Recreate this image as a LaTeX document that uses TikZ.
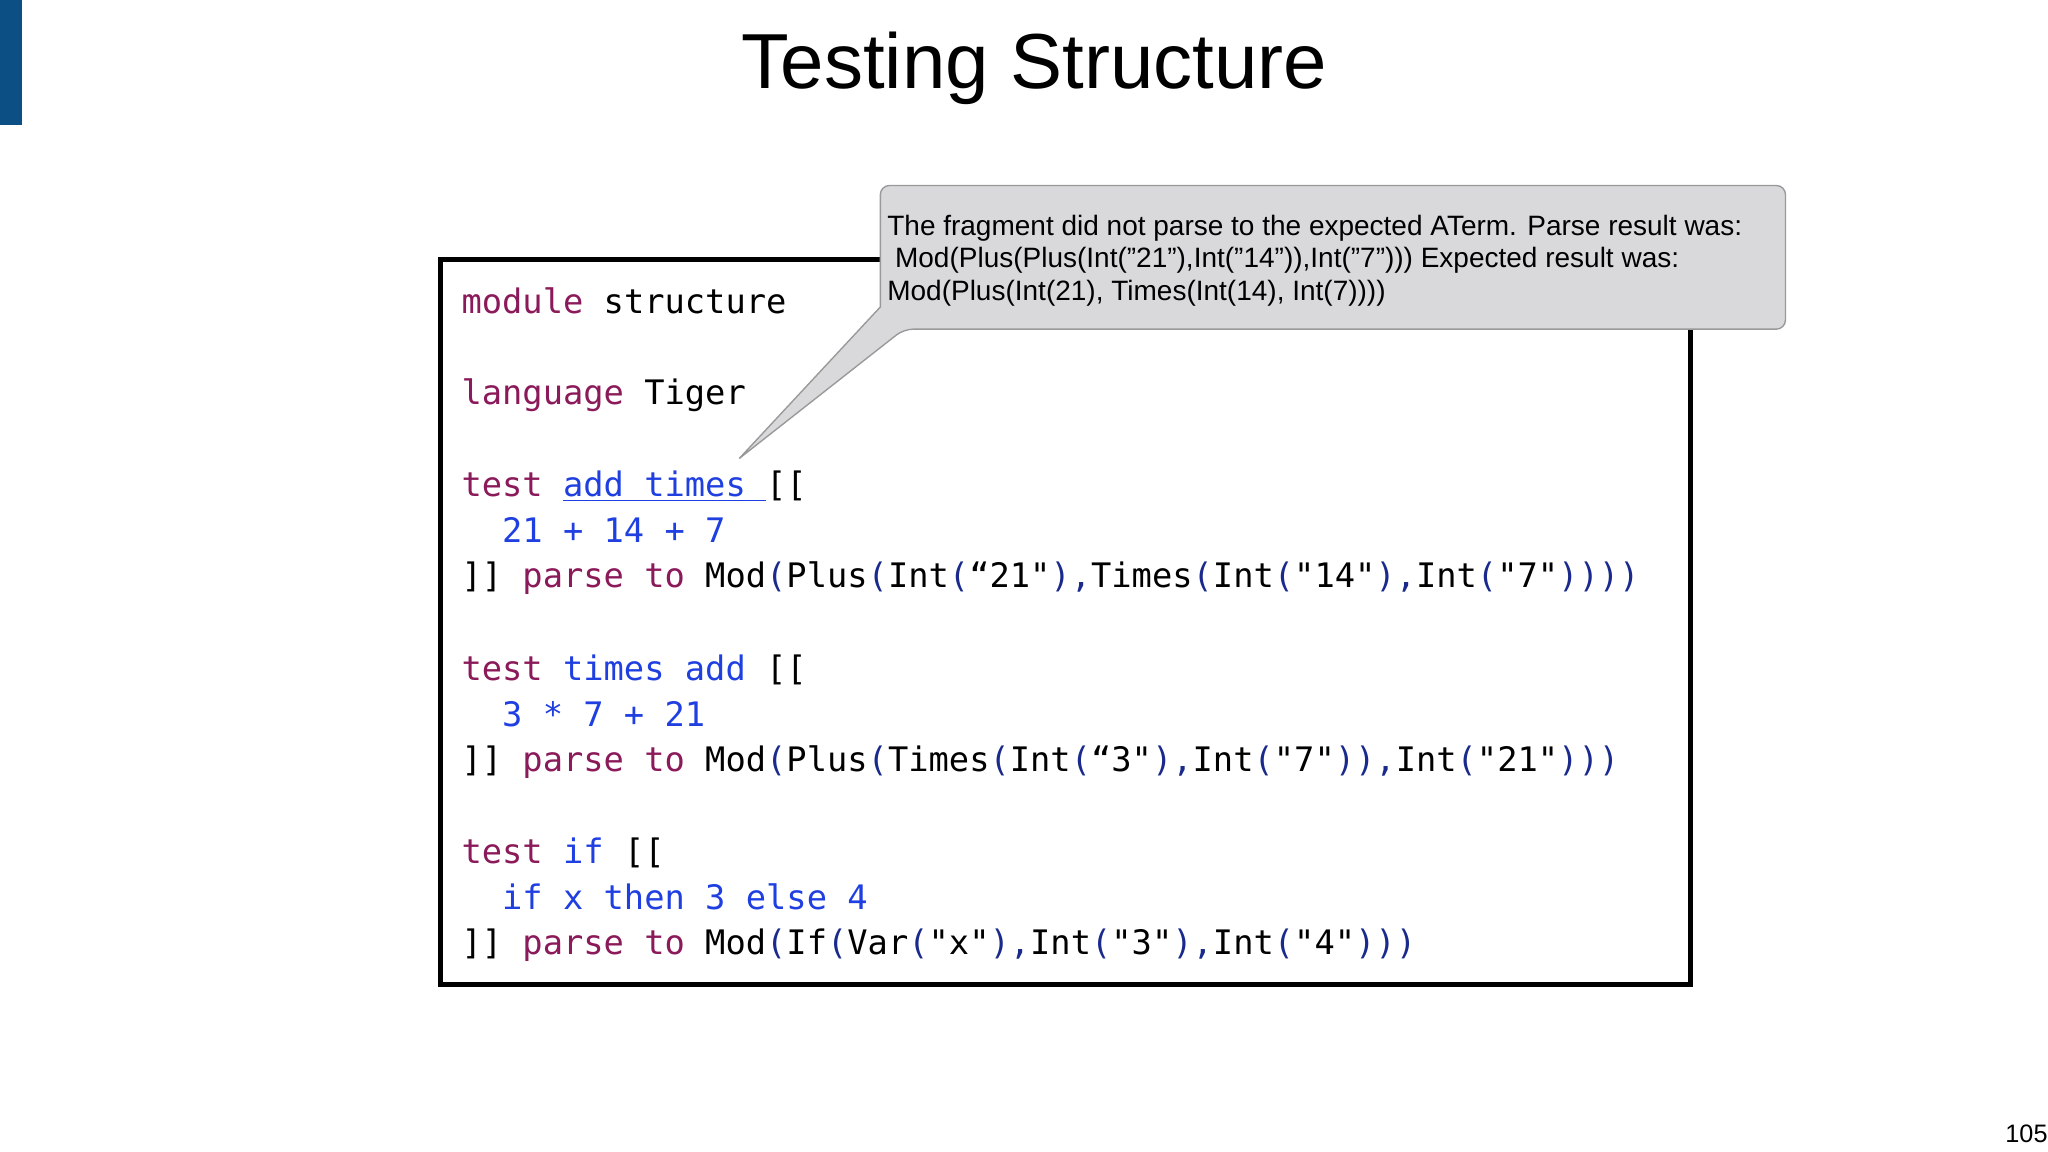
\documentclass[tikz,border=0pt]{standalone}
\usepackage{fontspec}
\setmainfont{Liberation Sans}
\newfontfamily\codefont{DejaVu Sans Mono}
\definecolor{kw}{HTML}{8B1A5A}
\definecolor{bl}{HTML}{1F3FE0}
\definecolor{pn}{HTML}{1A2A8C}
\definecolor{bar}{HTML}{0B4F85}
\definecolor{callfill}{HTML}{D9D9DB}
\newcommand{\kw}[1]{\textcolor{kw}{#1}}
\newcommand{\bl}[1]{\textcolor{bl}{#1}}
\newcommand{\pn}[1]{\textcolor{pn}{#1}}
\tikzset{code/.style={anchor=base west,inner sep=0pt,font=\codefont\fontsize{14.7pt}{19.9pt}\selectfont},
callt/.style={anchor=base west,inner sep=0pt,font=\fontsize{12.2pt}{14pt}\selectfont}}
\begin{document}
\begin{tikzpicture}[x=0.02cm,y=-0.02cm]
\useasboundingbox (0,0) rectangle (1568,882);
\fill[bar] (0,0) rectangle (17,96);
\node[font=\fontsize{34pt}{40pt}\selectfont] (title) at (792,52) {Testing Structure};
\node[anchor=base east,inner sep=0pt,font=\fontsize{11pt}{13pt}\selectfont] (pg) at (1568,875) {105};
\draw[line width=2.2pt] (337,199) rectangle (1294,754);
\node[code] (l1) at (353,240) {\kw{module} structure};
\node[code] (l2) at (353,310) {\kw{language} Tiger};
\node[code] (l3) at (353,380) {\kw{test} \bl{\underline{add times }}[[};
\node[code] (l4) at (353,415) {\bl{\ \ 21 + 14 + 7}};
\node[code] (l5) at (353,450) {]] \kw{parse to} Mod\pn{(}Plus\pn{(}Int\pn{(}“21"\pn{),}Times\pn{(}Int\pn{(}"14"\pn{),}Int\pn{(}"7"\pn{))))}};
\node[code] (l6) at (353,521) {\kw{test} \bl{times add} [[};
\node[code] (l7) at (353,556) {\bl{\ \ 3 * 7 + 21}};
\node[code] (l8) at (353,591) {]] \kw{parse to} Mod\pn{(}Plus\pn{(}Times\pn{(}Int\pn{(}“3"\pn{),}Int\pn{(}"7"\pn{)),}Int\pn{(}"21"\pn{)))}};
\node[code] (l9) at (353,661) {\kw{test} \bl{if} [[};
\node[code] (l10) at (353,696) {\bl{\ \ if x then 3 else 4}};
\node[code] (l11) at (353,731) {]] \kw{parse to} Mod\pn{(}If\pn{(}Var\pn{(}"x"\pn{),}Int\pn{(}"3"\pn{),}Int\pn{(}"4"\pn{)))}};
\coordinate (tip) at (566,351);
\draw[fill=callfill,draw=gray!80,line width=0.6pt,rounded corners=4pt]
 (674,235) -- (674,142) -- (1367,142) -- (1367,252) -- (692,252) [sharp corners]-- (tip) -- cycle;
\node[callt] (c1) at (679,180) {The fragment did not parse to the expected ATerm. Parse result was:};
\node[callt] (c2) at (679,205) {\ Mod(Plus(Plus(Int("21"),Int("14")),Int("7"))) Expected result was:};
\node[callt] (c3) at (679,230) {Mod(Plus(Int(21), Times(Int(14), Int(7))))};
\end{tikzpicture}
\end{document}
